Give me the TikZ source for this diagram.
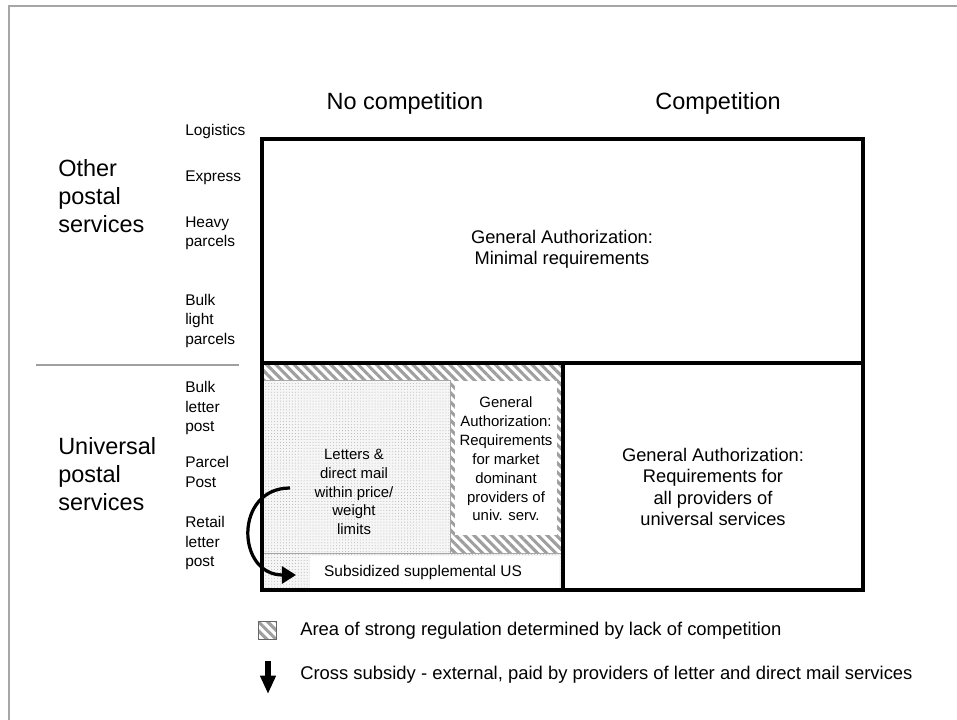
\documentclass[tikz,border=0pt]{standalone}
\usepackage{fontspec}
\setmainfont{Liberation Sans}
\usetikzlibrary{arrows.meta,patterns.meta}

\begin{document}
\begin{tikzpicture}
        [x=0.025cm, y=-0.025cm, every node/.style={inner sep=0, align=center},
         head/.style={font=\fontsize{16.7}{20}\selectfont},
         group/.style={font=\fontsize{16.7}{19.8}\selectfont, align=left, anchor=west},
         row/.style={font=\fontsize{11}{13.8}\selectfont, align=left, anchor=west},
         boxtext/.style={font=\fontsize{13}{15}\selectfont},
         celltext/.style={font=\fontsize{10.6}{13.4}\selectfont},
         legendtext/.style={font=\fontsize{13.1}{15}\selectfont, anchor=west},
         thickbox/.style={draw=black, line width=2.4pt},
         hatched/.style={pattern={Lines[angle=-45,distance=4.6pt,line width=2.2pt]}, pattern color=gray!75},
         stipple/.style={fill=gray!7, draw=gray!70, line width=0.5pt,
           postaction={pattern={Dots[distance=2.1pt,radius=0.35pt]}, pattern color=gray!60}},
         subsidy/.style={line width=2.3pt, -{Triangle[length=10pt,width=12pt]}}]

        \useasboundingbox (0,0) rectangle (957,720);

        % outer frame
        \draw[gray!70, line width=1.1pt] (957,6) -- (9,6) -- (9,720);

        % shaded areas
        \path[hatched] (262,363) rectangle (563,553);
        \path[stipple] (262,380) rectangle (450,553);
        \fill[white] (455,381) rectangle (557,535);
        \path[stipple] (262,553) rectangle (563,590);
        \fill[white] (310,556) rectangle (559,588);

        % main boxes
        \draw[thickbox] (262,139) rectangle (863,363);
        \draw[thickbox] (262,363) rectangle (563,590);
        \draw[thickbox] (563,363) rectangle (863,590);

        % column heads
        \node[head] (nocomp) at (405,103) {No competition};
        \node[head] (comp) at (718,103) {Competition};

        % box texts
        \node[boxtext] (minreq) at (562,249) {General Authorization:\\Minimal requirements};
        \node[boxtext] (allprov) at (713,487) {General Authorization:\\Requirements for\\all providers of\\universal services};
        \node[celltext] (marketdom) at (506,459) {General\\Authorization:\\Requirements\\for market\\dominant\\providers of\\univ. serv.};
        \node[celltext] (letters) at (354,492) {Letters \&\\direct mail\\within price/\\weight\\limits};
        \node[font=\fontsize{11}{13}\selectfont] (subsid) at (423,572) {Subsidized supplemental US};

        % row groups
        \node[group] (other) at (58,196) {Other\\postal\\services};
        \node[group] (univ) at (58,474) {Universal\\postal\\services};
        \draw[gray!75, line width=1.1pt] (36,365) -- (239,365);

        \node[row] (logistics) at (185,132) {Logistics};
        \node[row] (express) at (185,178) {Express};
        \node[row] (heavy) at (185,233) {Heavy\\parcels};
        \node[row] (bulklight) at (185,321) {Bulk\\light\\parcels};
        \node[row] (bulkletter) at (185,408) {Bulk\\letter\\post};
        \node[row] (parcelpost) at (185,472) {Parcel\\Post};
        \node[row] (retail) at (185,543) {Retail\\letter\\post};

        % cross subsidy
        \coordinate (subfrom) at (290,488);
        \coordinate (subto) at (296,575);
        \draw[subsidy] (subfrom) .. controls (234,488) and (236,575) .. (subto);

        % legend
        \path[hatched, draw=gray!80!black, line width=0.6pt] (258,621) rectangle (276,639);
        \node[legendtext] (keyhatch) at (300,631) {Area of strong regulation determined by lack of competition};
        \coordinate (keytop) at (268,661);
        \coordinate (keybot) at (268,694);
        \draw[line width=3.6pt, -{Triangle[length=13pt,width=10.5pt]}] (keytop) -- (keybot);
        \node[legendtext] (keyarrow) at (300,675) {Cross subsidy - external, paid by providers of letter and direct mail services};

\end{tikzpicture}
\end{document}
